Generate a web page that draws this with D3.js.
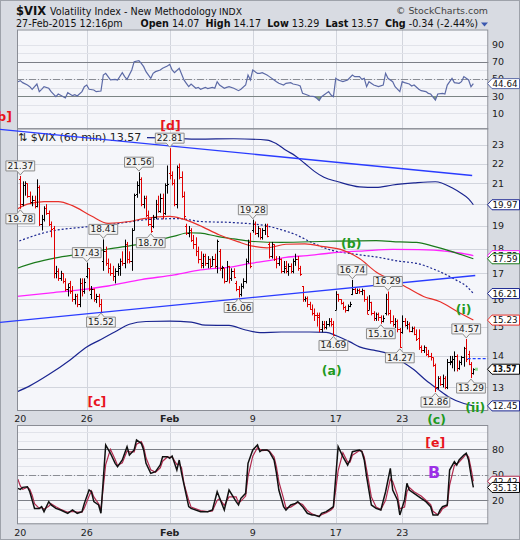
<!DOCTYPE html>
<html><head><meta charset="utf-8">
<script src="https://cdn.jsdelivr.net/npm/d3@7/dist/d3.min.js"></script>
<style>
body{margin:0;background:#fff;}
svg{display:block;font-family:"DejaVu Sans",Verdana,sans-serif;}
</style></head><body>
<svg id="c" width="520" height="540"></svg>
<script>
// ---------- DATA ----------
const dayLabels   = ["20","26","Feb","9","17","23"];
const dayLabelBar = [0,28,63,98,133,161];
const priceTicks  = [13,14,15,16,17,18,19,20,21,22,23];
const rsiTicks    = [10,30,50,70,90];
const stoTicks    = [20,50,80];

const opens = [
 21.2,20.0,20.9,21.0,20.4,20.1,20.2, 19.9,20.8,19.1,19.3,19.8,19.6,19.1,
 18.9,17.0,17.1,16.8,17.0,16.7,16.4, 16.6,16.3,16.0,16.1,15.8,16.6,16.3,
 16.9,17.2,16.2,16.4,16.0,16.1,15.8, 17.5,17.9,17.4,17.2,17.0,16.9,17.1,
 17.3,17.5,17.4,18.2,17.6,17.5,18.8, 20.5,20.9,21.2,20.0,20.3,19.5,19.1,
 19.0,19.4,20.0,19.7,20.3,19.6,20.9, 21.5,21.4,21.0,20.0,21.8,21.3,20.4,
 19.0,18.7,18.8,18.4,18.2,17.9,17.6, 17.4,17.7,17.4,17.6,17.3,17.6,17.3,
 17.9,17.2,17.2,16.7,17.3,16.8,17.1, 16.6,16.4,16.2,16.5,16.7,17.5,18.3,
 18.8,19.1,18.7,18.9,18.5,18.8,19.0, 18.2,17.7,18.2,17.6,17.4,17.6,17.1,
 17.3,17.1,17.3,17.1,17.5,17.6,17.2, 16.5,16.0,16.05,15.8,15.65,15.5,15.4,
 15.4,14.9,15.1,15.0,15.1,15.2,15.1, 15.6,16.2,16.0,15.85,15.7,15.6,15.75,
 16.2,16.4,16.25,16.35,16.3,16.35,16.0, 15.6,15.9,15.5,15.3,15.45,15.35,15.2,
 15.5,16.0,15.5,15.2,15.1,15.2,14.9, 14.8,15.2,15.05,15.1,14.85,14.95,14.75,
 14.6,14.3,14.2,14.3,14.05,14.0,13.95, 13.7,13.0,13.3,13.1,13.3,13.0,13.8,
 13.8,13.9,14.0,13.6,13.8,13.95,14.25, 14.07,13.75,13.45];
const highs = [
 21.37,21.1,21.1,21.0,20.6,20.4,20.4, 21.2,20.9,19.5,19.9,20.0,19.7,19.2,
 19.0,17.3,17.2,17.1,17.0,16.8,16.6, 16.7,16.5,16.2,16.2,16.8,16.8,16.8,
 17.43,17.2,16.5,16.4,16.2,16.2,16.0, 18.41,18.1,17.6,17.4,17.3,17.2,17.4,
 17.6,17.9,18.4,18.3,17.9,18.9,20.5, 21.1,21.56,21.3,20.4,20.4,19.7,19.4,
 19.5,20.2,20.4,20.5,20.5,21.0,21.9, 22.81,21.6,21.2,21.9,22.0,21.6,20.6,
 19.1,19.0,18.9,18.6,18.5,18.1,17.9, 17.8,17.8,17.7,17.6,17.7,17.8,18.4,
 18.0,17.3,17.2,17.5,17.3,17.2,17.2, 16.7,16.5,16.6,16.8,17.6,18.4,18.7,
 19.28,19.2,19.0,18.9,18.9,19.1,19.1, 18.3,18.3,18.2,17.7,17.7,17.6,17.5,
 17.5,17.4,17.4,17.6,17.8,17.7,17.3, 16.5,16.1,16.1,15.9,15.8,15.65,15.5,
 15.5,15.2,15.2,15.2,15.3,15.3,15.2, 16.3,16.2,16.0,15.9,15.75,15.8,15.9,
 16.74,16.45,16.4,16.4,16.4,16.35,16.1, 16.15,15.9,15.55,15.5,15.5,15.4,15.4,
 16.2,16.29,15.6,15.4,15.3,15.25,14.95, 15.4,15.3,15.2,15.15,15.0,15.0,14.9,
 14.9,14.35,14.35,14.3,14.2,14.1,13.95, 13.75,13.35,13.35,13.4,13.35,13.9,14.0,
 14.0,14.15,14.05,13.85,14.0,14.3,14.57, 14.17,13.8,13.6];
const lows = [
 19.78,19.9,20.4,20.3,20.0,19.9,19.8, 19.85,19.0,18.8,19.2,19.5,19.0,18.5,
 16.8,16.8,16.7,16.7,16.6,16.3,16.1, 16.2,15.9,15.8,15.7,15.7,16.1,16.2,
 16.8,16.3,16.0,15.9,15.85,15.7,15.52, 17.1,17.3,17.0,16.9,16.7,16.6,16.9,
 16.9,17.3,17.2,17.4,17.4,17.1,18.8, 20.3,20.5,19.9,19.8,19.4,19.0,18.70,
 18.9,19.3,19.6,19.6,19.3,19.5,20.5, 21.2,20.9,19.9,19.8,21.2,20.3,19.3,
 18.6,18.5,18.3,18.0,17.7,17.4,17.2, 17.2,17.3,17.2,17.2,17.3,17.2,17.0,
 17.1,16.8,16.6,16.7,16.6,16.7,16.8, 16.3,16.06,16.1,16.4,16.6,17.4,17.2,
 18.7,18.6,18.5,18.4,18.4,18.6,18.5, 17.6,17.6,17.5,17.2,17.3,17.0,17.0,
 17.0,16.9,17.0,17.0,17.3,17.1,16.9, 15.9,15.9,15.7,15.6,15.4,15.2,15.0,
 14.8,14.8,14.9,14.9,15.0,15.0,14.69, 15.6,15.9,15.8,15.6,15.5,15.55,15.7,
 16.15,16.2,16.2,16.2,16.15,15.9,15.45, 15.6,15.4,15.2,15.2,15.2,15.10,15.15,
 15.4,15.4,15.1,15.0,14.95,14.8,14.27, 14.75,15.0,14.9,14.8,14.8,14.7,14.5,
 14.2,14.1,14.1,14.0,13.95,13.85,13.65, 12.86,12.95,13.05,13.0,12.95,12.95,13.7,
 13.6,13.5,13.5,13.55,13.7,13.65,13.8, 13.7,13.29,13.4];
const closes = [
 20.0,20.9,21.0,20.4,20.1,20.2,19.89, 20.8,19.1,19.3,19.8,19.6,19.1,18.85,
 17.0,17.1,16.8,17.0,16.7,16.4,16.45, 16.3,16.0,16.1,15.8,16.6,16.3,16.66,
 17.2,16.4,16.4,16.0,16.1,15.8,15.52, 17.9,17.4,17.2,17.0,16.9,17.1,17.22,
 17.5,17.4,18.2,17.6,17.5,18.8,20.44, 20.9,21.2,20.0,20.3,19.5,19.1,18.76,
 19.4,20.0,19.7,20.3,19.6,20.9,20.97, 21.4,21.0,20.0,21.8,21.3,20.4,19.43,
 18.7,18.8,18.4,18.2,17.9,17.6,17.33, 17.7,17.4,17.6,17.3,17.6,17.3,18.33,
 17.2,17.25,16.7,17.3,16.8,17.1,16.85, 16.4,16.2,16.5,16.7,17.5,18.3,17.29,
 19.1,18.7,18.9,18.5,18.8,19.0,18.55, 17.7,18.2,17.6,17.4,17.6,17.1,17.23,
 17.1,17.3,17.1,17.5,17.6,17.2,16.96, 16.0,16.05,15.8,15.65,15.5,15.4,15.34,
 14.9,15.1,15.0,15.1,15.2,15.1,14.69, 16.2,16.0,15.85,15.7,15.6,15.75,15.8,
 16.4,16.25,16.35,16.3,16.35,16.0,15.45, 15.9,15.5,15.3,15.45,15.35,15.2,15.29,
 16.0,15.5,15.2,15.1,15.2,14.9,14.30, 15.2,15.05,15.1,14.85,14.95,14.75,14.56,
 14.3,14.2,14.3,14.05,14.0,13.95,13.69, 13.0,13.3,13.1,13.3,13.0,13.8,13.84,
 13.9,14.0,13.6,13.8,13.95,14.25,13.91, 13.75,13.45,13.57];
const prevClose = 13.91;

// overlays: [bar index, value]
const bbUpper = [[-2,23.4],[12,23.5],[27,23.45],[40,23.35],[53,23.38],[63,23.36],[75,23.3],[90,23.32],[104,23.25],[108,23.05],[112,22.7],[116,22.4],[120,22.0],[124,21.6],[128,21.3],[134,21.08],[143,20.83],[150,20.8],[157,20.92],[166,21.02],[175,21.08],[182,20.78],[186,20.5],[189,20.25],[191,19.97]];
const bbMiddle = [[-2,18.28],[12,18.75],[27,18.95],[37,19.05],[47,19.2],[55,19.3],[67,19.33],[76,19.2],[90,19.15],[104,19.0],[111,18.8],[116,18.62],[123,18.27],[131,17.95],[142,17.77],[151,17.65],[159,17.5],[168,17.38],[176,17.1],[184,16.72],[188,16.5],[191,16.21]];
const bbLower = [[-2,12.85],[4,13.05],[12,13.4],[21,13.87],[28,14.3],[34,14.55],[40,14.82],[46,15.08],[53,15.18],[63,15.19],[72,15.16],[78,15.05],[88,15.04],[95,14.88],[101,14.79],[110,14.81],[122,14.81],[129,14.8],[133,14.69],[139,14.47],[143,14.3],[149,14.19],[155,14.08],[160,13.86],[166,13.55],[171,13.22],[176,12.95],[181,12.7],[187,12.52],[191,12.45]];
const maRed = [[-2,19.72],[3,20.0],[10,20.12],[16,20.12],[22,19.93],[30,19.45],[37,19.12],[46,19.2],[52,19.33],[63,19.43],[68,19.33],[75,19.05],[84,18.6],[92,18.3],[98,18.12],[104,18.05],[112,18.2],[120,18.22],[128,18.1],[135,17.98],[143,17.6],[150,17.05],[160,16.6],[170,16.1],[177,15.9],[184,15.55],[191,15.23]];
const maGreen = [[-2,17.18],[6,17.43],[15,17.63],[26,17.8],[37,18.0],[51,18.22],[65,18.55],[71,18.7],[76,18.68],[83,18.54],[90,18.43],[97,18.33],[110,18.28],[130,18.33],[150,18.36],[160,18.3],[167,18.28],[174,18.12],[181,17.92],[191,17.59]];
const maMagenta = [[-2,16.1],[12,16.23],[26,16.36],[37,16.5],[51,16.75],[65,16.94],[76,17.14],[90,17.27],[97,17.4],[104,17.5],[112,17.65],[121,17.72],[130,17.82],[145,17.92],[157,17.98],[168,17.97],[180,17.9],[186,17.82],[191,17.72]];
const trendUpper = [[-8.56,23.84],[190.5,21.39]];
const trendLower = [[-8.56,15.15],[191.8,16.91]];

const rsi = [[-1,46.9],[0,48.1],[1,45.8],[3,43.0],[4,41.1],[5,38.0],[7,44.2],[8,35.3],[9,38.0],[10,41.1],[12,39.2],[13,35.3],[15,29.4],[16,32.5],[17,31.0],[19,27.9],[20,34.1],[22,30.6],[23,31.8],[24,30.2],[26,35.3],[27,41.1],[28,43.0],[29,38.0],[31,37.2],[32,35.3],[34,36.0],[35,54.7],[36,56.6],[37,52.8],[38,48.9],[40,49.6],[41,48.9],[43,57.4],[44,52.8],[45,49.6],[47,60.5],[48,70.2],[50,71.4],[51,68.3],[52,64.4],[53,58.6],[55,50.8],[56,56.6],[57,58.6],[59,60.5],[60,62.5],[62,65.2],[63,67.1],[64,60.5],[65,57.4],[67,62.5],[69,48.9],[70,45.0],[71,41.1],[72,44.2],[74,39.2],[75,40.3],[76,38.0],[78,40.3],[79,38.8],[81,40.3],[82,39.2],[83,46.9],[84,43.0],[86,39.2],[87,40.3],[88,41.1],[90,39.2],[92,36.4],[93,38.0],[95,43.0],[96,54.7],[97,48.9],[98,60.5],[100,56.6],[101,56.6],[102,57.4],[104,54.7],[105,52.8],[107,48.9],[108,46.9],[109,45.0],[111,43.0],[112,45.0],[114,45.8],[115,44.2],[117,43.0],[118,41.9],[119,33.3],[121,31.4],[122,30.2],[124,29.4],[125,27.5],[126,24.8],[127,29.4],[128,31.4],[130,35.3],[131,31.4],[132,29.4],[133,50.8],[134,48.9],[136,46.9],[138,48.9],[140,54.7],[141,52.8],[143,52.8],[144,49.6],[145,50.8],[146,41.1],[147,46.9],[149,43.0],[151,41.1],[153,43.0],[154,56.6],[155,50.8],[157,46.9],[158,41.1],[160,35.3],[161,46.9],[162,45.8],[164,44.2],[165,41.9],[166,43.0],[168,38.0],[169,36.4],[171,35.3],[172,33.3],[173,32.5],[175,25.5],[176,32.5],[178,33.3],[179,32.5],[180,43.0],[182,50.8],[183,45.8],[185,45.0],[186,46.9],[187,52.8],[189,48.9],[190,41.1],[191,44.64]];
const stochK = [[-1,34.1],[0,32.9],[1,35.2],[3,36.0],[4,30.1],[5,20.4],[6,10.5],[8,10.5],[9,12.5],[10,6.6],[12,18.4],[13,14.5],[15,10.5],[17,8.6],[20,4.7],[22,8.6],[24,4.7],[26,6.6],[27,16.4],[29,32.1],[30,30.1],[31,18.4],[33,14.5],[34,4.7],[36,85.1],[38,75.3],[40,63.5],[41,59.6],[43,67.4],[45,83.1],[46,73.3],[48,79.2],[49,90.9],[51,87.0],[52,79.2],[53,63.5],[55,51.7],[57,53.7],[59,61.5],[60,71.3],[62,71.3],[63,69.4],[64,72.1],[66,55.6],[67,67.4],[68,51.7],[71,12.5],[72,10.5],[76,6.6],[79,6.6],[81,8.6],[83,30.1],[86,8.6],[88,32.1],[91,18.4],[92,14.5],[93,22.3],[95,28.2],[96,63.5],[98,79.2],[100,85.1],[101,77.2],[102,79.2],[104,79.2],[105,77.2],[107,67.4],[108,51.7],[109,32.1],[111,12.5],[112,8.6],[114,14.5],[116,16.4],[117,18.4],[119,12.5],[121,4.7],[123,2.7],[124,2.7],[126,0.7],[127,4.7],[129,6.6],[131,10.5],[132,12.5],[134,83.1],[136,71.3],[138,61.5],[139,67.4],[140,77.2],[143,79.2],[144,77.2],[145,67.4],[146,47.8],[148,14.5],[150,10.5],[152,8.6],[154,30.1],[156,57.6],[157,32.1],[159,20.4],[160,2.7],[162,20.4],[163,40.0],[164,32.1],[166,28.2],[169,22.3],[171,18.4],[173,12.5],[174,2.7],[176,2.7],[177,8.6],[178,12.5],[180,14.5],[181,55.6],[183,65.4],[184,61.5],[185,67.4],[187,73.3],[188,75.3],[189,67.4],[190,49.8],[191,35.13]];
const stochD = [[-1,44.7],[0,37],[1,33],[3,35.5],[4,33],[5,26],[6,16],[8,10.5],[9,11.5],[10,9.5],[12,13],[13,16],[15,12.5],[17,9.5],[20,6],[22,7],[24,6],[26,6],[27,11],[29,25],[30,31],[31,24],[33,16],[34,9.5],[36,62],[38,80],[40,68],[41,61],[43,64],[45,78],[46,77],[48,77],[49,86],[51,89],[52,83],[53,70],[55,56],[57,53],[59,58],[60,66],[62,71],[63,70.5],[64,71],[66,62],[67,63],[68,58],[69,40],[71,20],[72,12],[76,8],[79,6.6],[81,7.5],[83,20],[84,22],[86,14],[88,24],[91,24],[92,17],[93,19],[95,25],[96,48],[98,72],[100,82],[101,80],[102,78.5],[104,79],[105,78],[107,71],[108,59],[109,42],[111,22],[112,11],[114,12],[116,15.5],[117,17.5],[119,15],[121,8],[123,4],[124,2.7],[126,1.5],[127,3],[129,5.5],[131,8.5],[132,11.5],[134,55],[136,76],[138,65],[139,65],[140,73],[143,78.5],[144,78],[145,71],[146,56],[148,24],[150,12],[152,9],[154,20],[156,45],[157,42],[159,26],[160,10],[162,12],[163,30],[164,35],[166,30],[169,25],[171,20],[173,15],[174,7],[176,3],[177,5.5],[178,10],[180,13.5],[181,38],[183,61],[184,63],[185,65],[187,71],[188,74.5],[189,71],[190,58],[191,42.42]];

const highMarks = [[0,21.37],[28,17.43],[35,18.41],[50,21.56],[63,22.81],[98,19.28],[140,16.74],[155,16.29],[188,14.57]];
const lowMarks  = [[0,19.78],[34,15.52],[55,18.70],[92,16.06],[132,14.69],[152,15.10],[160,14.27],[175,12.86],[190,13.29]];
const waveMain = [["[b]",-3.5,24.3,"#e8141c","end"],["[d]",63.3,23.8,"#e8141c","middle"],["[c]",32.3,12.45,"#e8141c","middle"],
  ["(b)",139.5,18.05,"#1f9a1f","middle"],["(a)",131.3,13.4,"#1f9a1f","middle"],["(c)",175.5,11.93,"#1f9a1f","middle"],
  ["(i)",186.9,15.45,"#1f9a1f","middle"],["(ii)",191.8,12.27,"#1f9a1f","middle"]];
const waveLow = [["[e]",174.9,82.7,"#e8141c",12.5],["B",174.5,46.2,"#9b30e6",16]];

// ---------- LAYOUT ----------
const W=520,H=540, X0=17, X1=488.3;
const rsiTop=29.5, mainTop=128.3, mainBot=410, lowTop=425, lowBot=523.3;
const x  = d3.scaleLinear().domain([-1.39,197.3]).range([X0,X1]);
const yM = d3.scaleLog().domain([12.33,23.9]).range([mainBot,mainTop]);
const yR = d3.scaleLinear().domain([0,100]).range([121.9,36.15]);
const yS = d3.scaleLinear().domain([0,100]).range([517.3,432.3]);
const last = a=>a[a.length-1][1];

const svg = d3.select("#c");
const defs = svg.append("defs");
function clip(id,y0,y1){ defs.append("clipPath").attr("id",id).append("rect").attr("x",X0).attr("y",y0).attr("width",X1-X0).attr("height",y1-y0); }
clip("cR",rsiTop,mainTop); clip("cM",mainTop,mainBot); clip("cL",lowTop,lowBot);
defs.append("clipPath").attr("id","cR30").append("rect").attr("x",X0).attr("y",yR(30)).attr("width",X1-X0).attr("height",mainTop-yR(30));

svg.append("rect").attr("width",W).attr("height",H).attr("fill","#d8dbe2");
svg.append("rect").attr("x",0.5).attr("y",0.5).attr("width",W-1).attr("height",H-1).attr("fill","none").attr("stroke","#9ea2aa");

// header
const hd = svg.append("g").attr("fill","#111");
hd.append("text").attr("x",16).attr("y",15).attr("font-size",11.5).attr("font-weight","bold").text("$VIX");
hd.append("text").attr("x",50).attr("y",14.5).attr("font-size",9.6).text("Volatility Index - New Methodology");
hd.append("text").attr("x",219).attr("y",14.5).attr("font-size",9.2).text("INDX");
hd.append("text").attr("x",488).attr("y",14).attr("font-size",9.4).attr("text-anchor","end").attr("fill","#444").text("\u00A9 StockCharts.com");
hd.append("text").attr("x",16).attr("y",27).attr("font-size",9.6).text("27-Feb-2015 12:16pm");
const q = hd.append("text").attr("x",478).attr("y",27).attr("font-size",9.6).attr("text-anchor","end");
[["Open",1],[" 14.07  ",0],["High",1],[" 14.17  ",0],["Low",1],[" 13.29  ",0],["Last",1],[" 13.57  ",0],["Chg",1],[" -0.34 (-2.44%)",0]]
  .forEach(([t,b])=>q.append("tspan").attr("font-weight",b?"bold":"normal").attr("xml:space","preserve").text(t));
svg.append("path").attr("d","M481,22.5 L488,22.5 L484.5,26.5 Z").attr("fill","#3a58b0");

// panels
[[rsiTop,mainTop],[mainTop,mainBot],[lowTop,lowBot]].forEach(([a,b])=>{
  svg.append("rect").attr("x",X0).attr("y",a).attr("width",X1-X0).attr("height",b-a).attr("fill","#f5f6fa");
});

// grids
const grid = svg.append("g").attr("stroke","#d2d5dd").attr("stroke-width",1);
dayLabelBar.slice(1).forEach(b=>{
  const xx=Math.round(x(b))+0.5;
  [[rsiTop,mainTop],[mainTop,mainBot],[lowTop,lowBot]].forEach(([a,c])=>grid.append("line").attr("x1",xx).attr("x2",xx).attr("y1",a).attr("y2",c));
});
priceTicks.forEach(v=>{const yy=Math.round(yM(v))+0.5; grid.append("line").attr("x1",X0).attr("x2",X1).attr("y1",yy).attr("y2",yy);});
d3.range(10,100,10).forEach(v=>{const yy=Math.round(yR(v))+0.5; grid.append("line").attr("x1",X0).attr("x2",X1).attr("y1",yy).attr("y2",yy).attr("stroke","#e1e3ea");});
d3.range(0,110,10).forEach(v=>{const yy=Math.round(yS(v))+0.5; grid.append("line").attr("x1",X0).attr("x2",X1).attr("y1",yy).attr("y2",yy).attr("stroke","#e1e3ea");});
function hline(y,dash){ svg.append("line").attr("x1",X0).attr("x2",X1).attr("y1",Math.round(y)+0.5).attr("y2",Math.round(y)+0.5).attr("stroke",dash?"#8a8d94":"#7c7f87").attr("stroke-dasharray",dash?"7,2,1,2":null); }
hline(yR(70)); hline(yR(30)); hline(yR(50),true);
hline(yS(80)); hline(yS(20)); hline(yS(50),true);

// RSI
const lineR = d3.line().x(d=>x(d[0])).y(d=>yR(d[1]));
svg.append("path").attr("clip-path","url(#cR30)").attr("fill","#7fa07f")
  .attr("d",d3.area().x(d=>x(d[0])).y0(yR(30)).y1(d=>yR(d[1]))(rsi));
svg.append("path").datum(rsi).attr("clip-path","url(#cR)").attr("fill","none").attr("stroke","#5c6aa6").attr("stroke-width",1.2).attr("d",lineR);

// main overlays
const gM = svg.append("g").attr("clip-path","url(#cM)");
const lineM = d3.line().x(d=>x(d[0])).y(d=>yM(d[1])).curve(d3.curveMonotoneX);
gM.append("path").datum(bbUpper).attr("fill","none").attr("stroke","#1a2590").attr("stroke-width",1.2).attr("d",lineM);
gM.append("path").datum(bbLower).attr("fill","none").attr("stroke","#1a2590").attr("stroke-width",1.2).attr("d",lineM);
gM.append("path").datum(bbMiddle).attr("fill","none").attr("stroke","#1a2590").attr("stroke-width",1.2).attr("stroke-dasharray","2,2").attr("d",lineM);
gM.append("path").datum(maMagenta).attr("fill","none").attr("stroke","#ff22ff").attr("stroke-width",1.3).attr("d",lineM);
gM.append("path").datum(maGreen).attr("fill","none").attr("stroke","#1b7a1b").attr("stroke-width",1.2).attr("d",lineM);
gM.append("path").datum(maRed).attr("fill","none").attr("stroke","#e8302a").attr("stroke-width",1.2).attr("d",lineM);

// bars
const gB = gM.append("g").attr("stroke-width",1);
closes.forEach((c,i)=>{
  const xx=Math.round(x(i))+0.5, col = c>=opens[i]?"#000":"#e00000";
  gB.append("line").attr("x1",xx).attr("x2",xx).attr("y1",yM(highs[i])).attr("y2",yM(lows[i])).attr("stroke",col);
  gB.append("line").attr("x1",xx-1.5).attr("x2",xx).attr("y1",Math.round(yM(opens[i]))+0.5).attr("y2",Math.round(yM(opens[i]))+0.5).attr("stroke",col);
  gB.append("line").attr("x1",xx).attr("x2",xx+1.5).attr("y1",Math.round(yM(c))+0.5).attr("y2",Math.round(yM(c))+0.5).attr("stroke",col);
});
// previous close dashed + last marker
gM.append("line").attr("x1",x(188.6)).attr("x2",X1).attr("y1",yM(prevClose)).attr("y2",yM(prevClose)).attr("stroke","#2040ff").attr("stroke-width",1.2).attr("stroke-dasharray","3,2");
gM.append("rect").attr("x",x(closes.length-1)+1.5).attr("y",yM(closes[closes.length-1])-1.5).attr("width",3).attr("height",3).attr("fill","#8fe08f");

// stochastics
const gL = svg.append("g").attr("clip-path","url(#cL)");
const lineS = d3.line().x(d=>x(d[0])).y(d=>yS(d[1]));
gL.append("path").datum(stochD).attr("fill","none").attr("stroke","#b02a4e").attr("stroke-width",1.2).attr("d",lineS);
gL.append("path").datum(stochK).attr("fill","none").attr("stroke","#111").attr("stroke-width",1.5).attr("d",lineS);

// panel borders
[[rsiTop,mainTop],[mainTop,mainBot],[lowTop,lowBot]].forEach(([a,b])=>{
  svg.append("rect").attr("x",X0+0.5).attr("y",a+0.5).attr("width",X1-X0-1).attr("height",b-a).attr("fill","none").attr("stroke","#8a8d95");
});

// legend box (opaque) in main panel
svg.append("rect").attr("x",X0+1).attr("y",130.5).attr("width",129).attr("height",13).attr("fill","#f5f6fa");
svg.append("text").attr("x",18).attr("y",141).attr("font-size",11).attr("fill","#222").text("\u21C5 $VIX (60 min) 13.57");

// trend lines (not clipped)
const lineT = d3.line().x(d=>x(d[0])).y(d=>yM(d[1]));
[trendUpper,trendLower].forEach(t=>svg.append("path").datum(t).attr("fill","none").attr("stroke","#2a3cff").attr("stroke-width",1.4).attr("d",lineT));

// tag positions (used to skip fully hidden tick labels)
const mainTags = [[last(bbUpper),"#1a2590"],[last(maMagenta),"#ff22ff"],[last(maGreen),"#1b7a1b"],[last(bbMiddle),"#1a2590"],[last(maRed),"#e8302a"],[closes[closes.length-1],"#000",true],[last(bbLower),"#1a2590"]];
const tagYs = mainTags.map(t=>yM(t[0]));

// axis labels
const ax = svg.append("g").attr("font-size",9.5).attr("fill","#222");
priceTicks.forEach(v=>{ if(tagYs.some(t=>Math.abs(t-yM(v))<3)) return;
  ax.append("text").attr("x",492).attr("y",yM(v)).attr("dy","0.36em").text(v);});
rsiTicks.forEach(v=>ax.append("text").attr("x",492).attr("y",yR(v)).attr("dy","0.36em").text(v));
stoTicks.forEach(v=>ax.append("text").attr("x",492).attr("y",yS(v)).attr("dy","0.36em").text(v));
[421.5,536].forEach(yy=>dayLabels.forEach((t,k)=>ax.append("text").attr("x",x(dayLabelBar[k])).attr("y",yy).attr("text-anchor","middle")
  .attr("font-weight",t==="Feb"?"bold":"normal").text(t)));

// callouts
const gC = svg.append("g");
function callout(i,v,isHigh){
  const cx=x(i), g=gC.append("g");
  const p = g.append("path").attr("fill","#f3f3f3").attr("stroke","#8c8c8c").attr("stroke-width",1);
  const t = g.append("text").attr("font-size",9).attr("text-anchor","middle").attr("fill","#222").text(v.toFixed(2));
  const w = t.node().getComputedTextLength()+3, h=10, pt=4;
  let tip, top, bot, d;
  if(isHigh){ tip=yM(v)-1; bot=tip-pt; top=bot-h;
    d=`M${cx-w/2},${top}H${cx+w/2}V${bot}H${cx+3.5}L${cx},${tip}L${cx-3.5},${bot}H${cx-w/2}Z`;
  } else { tip=yM(v)+1; top=tip+pt; bot=top+h;
    d=`M${cx-w/2},${bot}H${cx+w/2}V${top}H${cx+3.5}L${cx},${tip}L${cx-3.5},${top}H${cx-w/2}Z`;
  }
  p.attr("d",d);
  t.attr("x",cx).attr("y",bot-2);
}
highMarks.forEach(([i,v])=>callout(i,v,true));
lowMarks.forEach(([i,v])=>callout(i,v,false));

// right tags
function tag(y,txt,col,bold){
  svg.append("path").attr("d",`M487.5,${y}L492,${y-5}H519.5V${y+5}H492Z`).attr("fill","#fff").attr("stroke",col).attr("stroke-width",1);
  svg.append("text").attr("x",492.5).attr("y",y).attr("dy","0.36em").attr("font-size",bold?8.8:9.2).attr("font-weight",bold?"bold":"normal")
    .attr("textLength",bold?24:25).attr("lengthAdjust","spacingAndGlyphs").attr("fill","#111").text(txt);
}
mainTags.forEach(([v,c,b])=>tag(yM(v),v.toFixed(2),c,b));
tag(yR(last(rsi)),last(rsi).toFixed(2),"#5c6aa6");
tag(yS(last(stochD)),last(stochD).toFixed(2),"#b02a4e");
tag(yS(last(stochK)),last(stochK).toFixed(2),"#000");

// wave labels
waveMain.forEach(([t,i,v,c,anc])=>svg.append("text").attr("x",x(i)).attr("y",yM(v)).attr("text-anchor",anc)
  .attr("font-size",12.5).attr("font-weight","bold").attr("fill",c).text(t));
waveLow.forEach(([t,i,v,c,fs])=>svg.append("text").attr("x",x(i)).attr("y",yS(v)).attr("text-anchor","middle")
  .attr("font-size",fs).attr("font-weight","bold").attr("fill",c).text(t));
</script></body></html>
